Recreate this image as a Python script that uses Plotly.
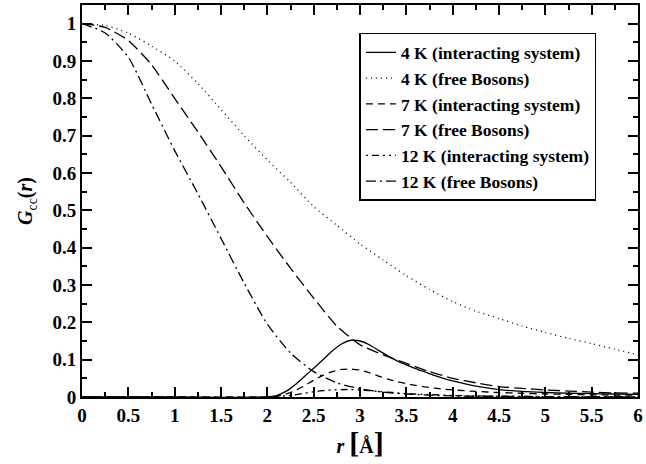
import plotly.graph_objects as go

# r grid (Angstrom) for the free-Boson curves
r_free = [0, 0.25, 0.5, 0.75, 1.0, 1.25, 1.5, 1.75, 2.0, 2.25, 2.5, 2.75, 3.0,
          3.25, 3.5, 3.75, 4.0, 4.25, 4.5, 4.75, 5.0, 5.25, 5.5, 5.75, 6.0]
g_4k_free = [1.0, 0.995, 0.975, 0.94, 0.90, 0.84, 0.77, 0.70, 0.635, 0.575, 0.51,
             0.46, 0.41, 0.367, 0.325, 0.288, 0.256, 0.23, 0.21, 0.19, 0.173,
             0.157, 0.143, 0.128, 0.113]
g_7k_free = [1.0, 0.99, 0.955, 0.89, 0.80, 0.71, 0.617, 0.52, 0.43, 0.345, 0.265,
             0.19, 0.14, 0.113, 0.09, 0.068, 0.05, 0.038, 0.028, 0.023, 0.019,
             0.016, 0.013, 0.011, 0.01]
g_12k_free = [1.0, 0.975, 0.91, 0.785, 0.66, 0.545, 0.425, 0.305, 0.195, 0.118, 0.068,
              0.038, 0.022, 0.013, 0.008, 0.005, 0.003, 0.002, 0.002, 0.001, 0.001,
              0.001, 0.0, 0.0, 0.0]

# r grid (Angstrom) for the interacting-system curves
r_int = [0, 1.0, 2.0, 2.1, 2.2, 2.3, 2.4, 2.5, 2.6, 2.7, 2.8, 2.9, 3.0, 3.1, 3.2,
         3.3, 3.4, 3.5, 3.6, 3.7, 3.8, 3.9, 4.0, 4.25, 4.5, 4.75, 5.0, 5.25, 5.5,
         5.75, 6.0]
g_4k_int = [0, 0, 0, 0.004, 0.015, 0.033, 0.055, 0.077, 0.10, 0.123, 0.142, 0.152,
            0.15, 0.14, 0.125, 0.11, 0.097, 0.086, 0.076, 0.067, 0.058, 0.05, 0.043,
            0.029, 0.02, 0.015, 0.012, 0.01, 0.009, 0.008, 0.007]
g_7k_int = [0, 0, 0, 0.002, 0.008, 0.017, 0.03, 0.045, 0.058, 0.068, 0.074, 0.075,
            0.072, 0.065, 0.056, 0.048, 0.041, 0.036, 0.031, 0.027, 0.024, 0.021,
            0.019, 0.015, 0.012, 0.01, 0.008, 0.007, 0.006, 0.005, 0.005]
g_12k_int = [0, 0, 0, 0.001, 0.003, 0.006, 0.01, 0.014, 0.017, 0.019, 0.02, 0.02,
             0.019, 0.017, 0.015, 0.013, 0.011, 0.009, 0.008, 0.007, 0.006, 0.005,
             0.004, 0.003, 0.002, 0.002, 0.001, 0.001, 0.001, 0.001, 0.001]

series = [
    ("4 K (interacting system)", r_int, g_4k_int, "solid"),
    ("4 K (free Bosons)", r_free, g_4k_free, "1px,4px"),
    ("7 K (interacting system)", r_int, g_7k_int, "7px,5px"),
    ("7 K (free Bosons)", r_free, g_7k_free, "12px,5px"),
    ("12 K (interacting system)", r_int, g_12k_int, "2px,4px,7px,4px,2px,4px"),
    ("12 K (free Bosons)", r_free, g_12k_free, "10px,4px,2px,4px"),
]

fig = go.Figure()
for name, x, y, dash in series:
    fig.add_trace(go.Scatter(
        x=x, y=y, mode="lines", name="<b>" + name + "</b>",
        line=dict(color="black", width=1.3, dash=dash, shape="spline", smoothing=0.6),
    ))

font_family = "Liberation Serif, Times New Roman, serif"
axis_common = dict(
    showline=True, linecolor="black", linewidth=2, mirror="ticks",
    ticks="inside", ticklen=10, tickwidth=1.5, tickcolor="black",
    showgrid=False, zeroline=False,
    tickfont=dict(family=font_family, size=19, color="black"),
)

fig.update_layout(
    width=646, height=464,
    margin=dict(l=82, r=3, t=5, b=67),
    paper_bgcolor="white", plot_bgcolor="white",
    font=dict(family=font_family, color="black"),
    showlegend=True,
    legend=dict(
        x=0.499, y=0.9286, xanchor="left", yanchor="top",
        bgcolor="white", bordercolor="black", borderwidth=1.5,
        font=dict(family=font_family, size=17.5, color="black"),
        itemwidth=30, tracegroupgap=0,
    ),
    xaxis=dict(
        range=[0, 6], dtick=0.5, tick0=0,
        tickprefix="<b>", ticksuffix="</b>",
        minor=dict(dtick=0.25, ticklen=5, ticks="inside", tickcolor="black", tickwidth=1.5),
        title=dict(
            text="<b><i>r</i> <span style='font-size:30px'>[</span>Å<span style='font-size:30px'>]</span></b>",
            font=dict(family=font_family, size=20, color="black"), standoff=10,
        ),
        **axis_common,
    ),
    yaxis=dict(
        range=[0, 1.05], dtick=0.1, tick0=0,
        tickprefix="<b>", ticksuffix="</b>",
        minor=dict(dtick=0.05, ticklen=5, ticks="inside", tickcolor="black", tickwidth=1.5),
        title=dict(
            text="<b><i>G</i></b><sub>cc</sub><b>(<i>r</i>)</b>",
            font=dict(family=font_family, size=20, color="black"), standoff=14,
        ),
        **axis_common,
    ),
)

fig.write_html("out.html")
